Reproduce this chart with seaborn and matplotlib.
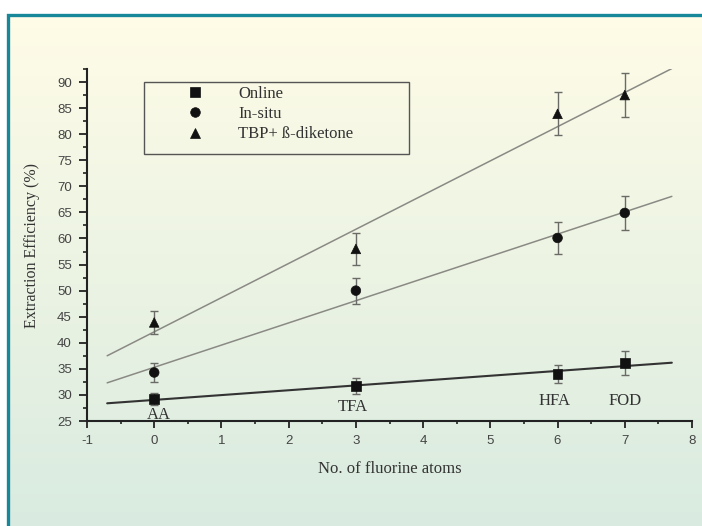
import numpy as np
import pandas as pd
import matplotlib
matplotlib.use("Agg")
import matplotlib.pyplot as plt
import seaborn as sns
from matplotlib.patches import Rectangle
from matplotlib.ticker import MultipleLocator

# Number of fluorine atoms in each beta-diketone ligand
fluorine = [0, 3, 6, 7]
ligands = ["AA", "TFA", "HFA", "FOD"]

# Extraction efficiency (%) and error for each extraction method
online = [29.2, 31.7, 34.0, 36.1]
online_err = [1.2, 1.5, 1.7, 2.3]
insitu = [34.3, 50.0, 60.1, 64.9]
insitu_err = [1.8, 2.5, 3.0, 3.3]
tbp = [43.9, 58.0, 83.9, 87.5]
tbp_err = [2.2, 3.0, 4.1, 4.3]

methods = ["Online", "In-situ", "TBP+ ß-diketone"]

rows = []
for name, vals, errs in zip(methods, [online, insitu, tbp], [online_err, insitu_err, tbp_err]):
    for f, v, e in zip(fluorine, vals, errs):
        rows.append({"fluorine": f, "efficiency": v, "err": e, "method": name})
df = pd.DataFrame(rows)

sns.set_theme(style="white")
plt.rcParams["font.family"] = ["Liberation Serif", "DejaVu Serif"]
plt.rcParams["axes.unicode_minus"] = False

W, H = 702, 526
fig = plt.figure(figsize=(W / 100, H / 100), dpi=100, facecolor="white")

# framed panel with a soft yellow-to-green gradient
bg = fig.add_axes([7 / W, 0, 1 - 7 / W, (H - 14) / H], zorder=0)
top = np.array([255, 252, 231]) / 255
bot = np.array([217, 235, 224]) / 255
t = np.linspace(0, 1, 256)[:, None]
grad = (top[None, :] * (1 - t) + bot[None, :] * t)[:, None, :]
bg.imshow(grad, aspect="auto", extent=[0, 1, 0, 1], origin="upper")
bg.set_xlim(0, 1)
bg.set_ylim(0, 1)
bg.axis("off")
fig.patches.append(Rectangle((7.5 / W, -0.05), 1.2, (H - 14.5) / H + 0.05,
                             transform=fig.transFigure, fill=False,
                             edgecolor="#17889A", linewidth=2.4, zorder=5))

x0, x1 = 87, 692
y_bot, y_top = 421, 69
ax = fig.add_axes([x0 / W, (H - y_bot) / H, (x1 - x0) / W, (y_bot - y_top) / H], zorder=2)
ax.set_facecolor("none")

# linear fits for each method
xfit = np.array([-0.7, 7.7])
fit_styles = {"Online": ("#333333", 1.5), "In-situ": ("#8a8a84", 1.1), "TBP+ ß-diketone": ("#8a8a84", 1.1)}
for name in methods:
    sub = df[df["method"] == name]
    k, b = np.polyfit(sub["fluorine"], sub["efficiency"], 1)
    c, lw = fit_styles[name]
    ax.plot(xfit, k * xfit + b, color=c, lw=lw, zorder=1)

# error bars
for name in methods:
    sub = df[df["method"] == name]
    ax.errorbar(sub["fluorine"], sub["efficiency"], yerr=sub["err"], fmt="none",
                ecolor="#6a6a66", elinewidth=1.0, capsize=3, capthick=1.0, zorder=2)

sns.scatterplot(data=df, x="fluorine", y="efficiency", style="method",
                markers={"Online": "s", "In-situ": "o", "TBP+ ß-diketone": "^"},
                color="#111111", s=48, edgecolor="#111111", linewidth=0.5,
                ax=ax, zorder=3, legend=True)

# ligand names
label_pos = {"AA": (0.07, 26.2), "TFA": (2.96, 27.7), "HFA": (5.95, 28.8), "FOD": (7.0, 28.8)}
for name in ligands:
    lx, ly = label_pos[name]
    ax.text(lx, ly, name, ha="center", va="center", fontsize=12, color="#333333")

ax.set_xlim(-1, 8)
ax.set_ylim(25, 92.5)
ax.xaxis.set_major_locator(MultipleLocator(1))
ax.xaxis.set_minor_locator(MultipleLocator(0.5))
ax.yaxis.set_major_locator(MultipleLocator(5))
ax.yaxis.set_minor_locator(MultipleLocator(2.5))
ax.tick_params(axis="x", which="major", direction="out", length=5, width=1.3,
               color="#222222", pad=5, bottom=True)
ax.tick_params(axis="x", which="minor", direction="out", length=2.5, width=1.2,
               color="#222222", bottom=True)
ax.tick_params(axis="y", which="major", direction="out", length=6, width=1.3,
               color="#222222", pad=5, left=True)
ax.tick_params(axis="y", which="minor", direction="out", length=3, width=1.2,
               color="#222222", left=True)
for lab in ax.get_xticklabels() + ax.get_yticklabels():
    lab.set_fontfamily(["Liberation Sans", "DejaVu Sans"])
    lab.set_fontsize(9.5)
    lab.set_color("#444444")

sns.despine(ax=ax)
for side in ["left", "bottom"]:
    ax.spines[side].set_color("#222222")
    ax.spines[side].set_linewidth(1.5)

ax.set_xlabel("No. of fluorine atoms", fontsize=12, color="#333333", labelpad=10)
ax.set_ylabel("Extraction Efficiency (%)", fontsize=11.5, color="#333333", labelpad=12)

# legend, drawn without its own frame inside a plain box
handles, labels = ax.get_legend_handles_labels()
leg = ax.legend(handles, labels, loc="upper left",
                bbox_to_anchor=((178 - x0) / (x1 - x0), (y_bot - 86) / (y_bot - y_top)),
                frameon=False, borderpad=0, borderaxespad=0, handlelength=2.0,
                handletextpad=1.6, labelspacing=0.25, fontsize=12)
for txt in leg.get_texts():
    txt.set_color("#333333")
ax.add_patch(Rectangle(((144 - x0) / (x1 - x0), (y_bot - 154) / (y_bot - y_top)),
                       (409 - 144) / (x1 - x0), (154 - 82) / (y_bot - y_top),
                       transform=ax.transAxes, fill=False, edgecolor="#555555",
                       linewidth=1.0, zorder=4))

fig.savefig("out.png", dpi=100, facecolor="white")
